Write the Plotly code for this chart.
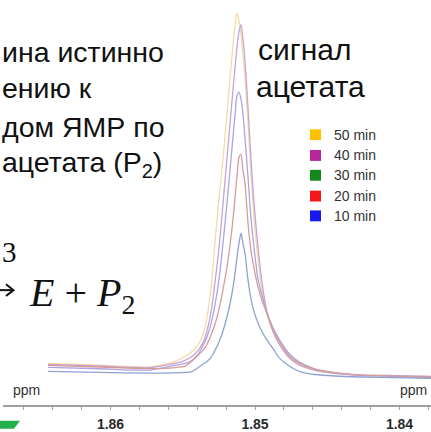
import plotly.graph_objects as go

# ---- data (chemical shift in ppm, intensity in arbitrary units) ----
ppm = [1.86433, 1.86073, 1.85727, 1.85554, 1.85484, 1.85436, 1.85394, 1.85360, 1.85332,
       1.85304, 1.85277, 1.85249, 1.85221, 1.85194, 1.85173, 1.85152, 1.85138, 1.85125,
       1.85111, 1.85097, 1.85083, 1.85069, 1.85048, 1.85028, 1.85007, 1.84979, 1.84952,
       1.84917, 1.84875, 1.84827, 1.84758, 1.84689, 1.84585, 1.84446, 1.84273, 1.84031,
       1.83782]

int_50 = [42, 40.2, 38.5, 44, 49, 54, 61, 71, 89, 119, 164, 209, 249, 294, 329, 364, 384, 396,
          389, 374, 354, 329, 284, 234, 189, 147, 117, 91, 74, 61, 48, 41, 35, 32, 30.5, 29.7, 29]
int_40 = [41, 39.4, 37.8, 42, 45, 49, 55, 63, 75, 94, 124, 159, 204, 249, 284, 319, 341, 361,
          377, 384, 369, 347, 299, 249, 204, 159, 124, 94, 74, 60, 47, 40, 35, 32, 30.5, 29.7, 29]
int_30 = [38, 36.6, 35.3, 40, 42, 45, 51, 60, 69, 82, 101, 127, 164, 204, 237, 271, 293, 312,
          316, 309, 294, 269, 229, 189, 159, 127, 111, 93, 78, 65, 51, 43, 36.5, 32.5, 30, 29, 28]
int_20 = [40, 38.4, 36.8, 37.8, 39.3, 44.4, 50.5, 55.2, 61.3, 70.6, 81.5, 97, 117, 139.1, 161.3,
          188, 210.3, 230.2, 250, 253, 237, 223.4, 183, 156.3, 138.3, 119.3, 105.8, 92.2, 76, 63,
          49, 42, 36, 32.8, 30.2, 29.1, 28]
int_10 = [34, 33, 32.1, 32.4, 32.9, 33.8, 37.7, 41.2, 43.9, 48.1, 55.2, 63.7, 75, 89.1, 102, 119,
          133.2, 148.8, 163, 173.5, 162.9, 153, 125.8, 107.3, 94.3, 82.8, 74.2, 65.6, 57, 46.8,
          38.9, 33.7, 30.8, 29.3, 28.3, 27.6, 27]

series_labels = ["50 min", "40 min", "30 min", "20 min", "10 min"]
series_values = [int_50, int_40, int_30, int_20, int_10]
line_colors = ["#f4dca6", "#c7a2d6", "#aaa6e2", "#d69c98", "#8ea2d2"]
legend_colors = ["#ffc000", "#b5279a", "#14881c", "#f41818", "#1818f0"]

tick_vals = [1.86, 1.85, 1.84]
tick_text = ["1.86", "1.85", "1.84"]

# ---- layout geometry helpers ----
W, H = 431, 432
ML, MR, MT, MB = 3, 0, 0, 23
PW, PH = W - ML - MR, H - MT - MB


def xp(px):
    return (px - ML) / PW


def yp(py):
    return (H - MB - py) / PH


fig = go.Figure()
for lab, vals, col in zip(series_labels, series_values, line_colors):
    fig.add_trace(go.Scatter(x=ppm, y=vals, mode="lines", name=lab,
                             line=dict(color=col, width=1.3, shape="spline", smoothing=0.7),
                             showlegend=False, hoverinfo="skip"))

ann = []
shapes = []
txt_left = dict(family="Liberation Sans", size=28.5, color="#111111")
txt = dict(family="Liberation Sans", size=30, color="#111111")

# left text block (cropped slide text)
left_lines = ["ина истинно", "ению к", "дом ЯМР по", "ацетата (P<sub>2</sub>)"]
left_centers = [53, 89, 128, 166]
for t, cy in zip(left_lines, left_centers):
    ann.append(dict(x=xp(0), y=yp(cy), xref="paper", yref="paper", text=t, showarrow=False,
                    xanchor="left", yanchor="middle", font=txt_left))

ann.append(dict(x=xp(256), y=yp(50), xref="paper", yref="paper", text="сигнал", showarrow=False,
                xanchor="left", yanchor="middle", font=txt))
ann.append(dict(x=xp(254), y=yp(87), xref="paper", yref="paper", text="ацетата", showarrow=False,
                xanchor="left", yanchor="middle", font=txt))

# formula fragment
ann.append(dict(x=xp(0), y=yp(254), xref="paper", yref="paper", text="3", showarrow=False,
                xanchor="left", yanchor="middle",
                font=dict(family="Liberation Serif", size=29, color="#111111")))
# arrow drawn as strokes (only its right end is visible in the slide crop)
shapes.append(dict(type="line", xref="paper", yref="paper", x0=xp(-2), x1=xp(13),
                   y0=yp(293), y1=yp(293), line=dict(color="#111111", width=2)))
shapes.append(dict(type="path", xref="paper", yref="paper",
                   path=f"M {xp(6)},{yp(287)} L {xp(13.5)},{yp(293)} L {xp(6)},{yp(299)}",
                   line=dict(color="#111111", width=2)))
ann.append(dict(x=xp(27), y=yp(298), xref="paper", yref="paper",
                text="<i>E</i> + <i>P</i><sub>2</sub>", showarrow=False,
                xanchor="left", yanchor="middle",
                font=dict(family="Liberation Serif", size=40, color="#111111")))

# legend
leg_y = [136, 157, 177, 198, 218]
for lab, col, cy in zip(series_labels, legend_colors, leg_y):
    shapes.append(dict(type="rect", xref="paper", yref="paper",
                       x0=xp(310), x1=xp(321), y0=yp(cy - 5.5), y1=yp(cy + 5.5),
                       fillcolor=col, line=dict(width=0)))
    ann.append(dict(x=xp(332), y=yp(cy), xref="paper", yref="paper", text=lab, showarrow=False,
                    xanchor="left", yanchor="middle",
                    font=dict(family="Liberation Sans", size=14, color="#333333")))

# ppm labels
for cx in (26, 413):
    ann.append(dict(x=xp(cx), y=yp(394), xref="paper", yref="paper", text="ppm", showarrow=False,
                    xanchor="center", yanchor="middle",
                    font=dict(family="Liberation Sans", size=14, color="#333333")))

# green arrow fragment at bottom-left
shapes.append(dict(type="path", xref="paper", yref="paper",
                   path=f"M {xp(-3)},{yp(425)} L {xp(20)},{yp(425)} L {xp(14)},{yp(433)} L {xp(-3)},{yp(433)} Z",
                   fillcolor="#22b04a", line=dict(width=0)))

fig.update_layout(
    width=W, height=H,
    margin=dict(l=ML, r=MR, t=MT, b=MB, pad=0),
    paper_bgcolor="white", plot_bgcolor="white",
    annotations=ann, shapes=shapes,
    xaxis=dict(range=[1.86744, 1.83782], tickvals=tick_vals, ticktext=tick_text,
               showgrid=False, zeroline=False, showline=True, linecolor="#a0a0a0", linewidth=1.5,
               ticks="outside", ticklen=3, tickcolor="#a0a0a0", tickwidth=1,
               ticklabelstandoff=2,
               tickfont=dict(family="Liberation Sans", size=14, color="#2a2a2a", weight="bold"),
               minor=dict(dtick=0.002, tick0=1.84, ticks="outside", ticklen=3, tickcolor="#a0a0a0",
                          showgrid=False),
               fixedrange=True),
    yaxis=dict(range=[0, PH], visible=False, fixedrange=True),
)

fig.write_html("out.html")
